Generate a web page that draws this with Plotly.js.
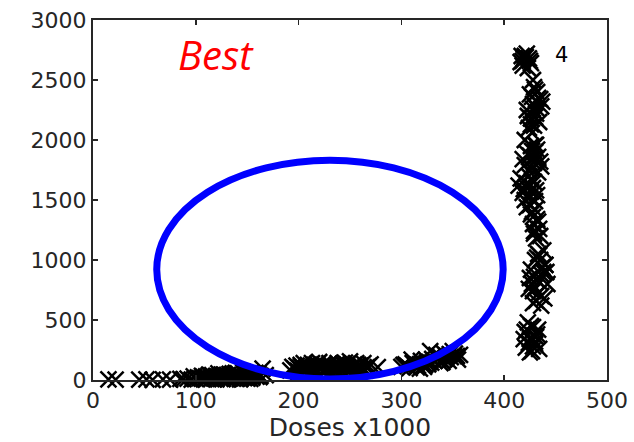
<!DOCTYPE html>
<html>
<head>
<meta charset="utf-8">
<script src="https://cdn.plot.ly/plotly-3.0.1.min.js"></script>
<style>html,body{margin:0;padding:0;background:#fff;}#chart{width:634px;height:442px;}</style>
</head>
<body>
<div id="chart"></div>
<script>
// Doses (x1000) and response values
const lowX  = [15,22,45,52,58,68,75,85,88,92,96,100,104,108,112,115,118,121,124,127,130,132,135,137,140,142,145,147,150,152,155,157,160,162,165,168,110,120,128,138,148,143,153,158,133,125,98,106,116,146,
               102,107,111,114,119,123,126,129,131,134,136,139,141,144,149,151,154,156,159,161,163,113,117,122,139,144,150,155,131,126];
const lowY  = [5,3,4,6,2,5,3,10,8,12,4,10,15,6,20,8,14,25,10,30,18,8,35,22,12,40,28,15,45,30,20,50,35,25,95,40,30,5,42,48,55,5,10,60,52,45,30,35,40,65,
               22,28,12,38,20,32,15,24,40,16,48,30,55,22,38,18,62,42,28,50,35,45,25,55,60,15,12,30,5,8];
const midX  = [192,196,200,203,206,209,212,215,218,221,224,227,230,233,236,239,242,245,248,251,254,257,260,263,266,277,198,210,220,235,250,265,270,225,240,255,205,230,245,260,
               194,199,202,207,211,214,217,219,222,226,229,232,234,238,241,244,247,249,253,256,259,262,268,201,213,223,237,252,258,243,228,216];
const midY  = [80,95,70,110,85,125,75,100,135,90,115,80,140,105,95,125,85,145,110,95,130,100,120,140,105,108,120,60,150,70,155,80,130,130,100,75,140,60,120,90,
               110,75,125,95,105,90,120,110,100,95,120,110,85,140,115,100,130,85,115,140,105,95,115,100,140,125,115,105,125,135,100,80];
const hiX   = [300,304,308,312,316,320,324,328,332,336,340,344,348,352,355,310,318,326,334,342,350,346,338,322,314,
               302,306,311,315,319,323,327,330,335,339,343,347,351,354,357,329,337,341];
const hiY   = [110,130,100,150,120,140,170,240,160,180,150,200,190,220,170,170,95,130,210,175,240,160,140,110,135,
               125,115,140,105,160,125,150,175,190,165,185,215,200,200,210,145,200,225];
const vertX = [416,420,424,418,422,426,419,423,417,425,
               428,430,425,433,428,436,422,431,426,434,429,424,432,437,427,
               420,426,432,423,429,435,420,427,433,424,430,418,436,
               416,422,428,418,425,431,414,420,427,
               425,430,426,432,428,434,429,431,
               438,434,430,440,426,436,431,442,424,433,439,428,435,425,441,430,436,
               423,428,420,432,425,430,421,427,434,419,433,425,
               421,418,429,427,432,430,426,435,428,423,431,425,429,424,433,430,427,
               421,426,432,429,419,425,430,422,428,
               429,433,427,435,
               432,437,429,434,440,428,436,431,427,438,433,
               426,429,424,431,422,428,430];
const vertY = [2650,2700,2680,2620,2720,2640,2680,2600,2700,2660,
               2500,2420,2380,2350,2300,2280,2250,2220,2180,2150,2120,2100,2400,2320,2060,
               2000,1950,1920,1880,1850,1820,1790,1760,1730,1700,1900,1840,1780,
               1680,1640,1600,1560,1520,1580,1620,1500,1660,
               1460,1420,1380,1340,1300,1260,1220,1180,
               1080,1040,1000,960,920,880,840,800,760,720,680,640,1000,850,900,770,620,
               480,440,400,380,340,300,270,240,260,340,420,230,
               2690,2660,2440,2360,2260,2190,2130,2340,2260,2200,1960,1870,1810,1740,1860,1960,1910,
               1610,1570,1540,1650,1590,1460,1490,1440,1360,
               1240,1320,1400,1200,
               1020,940,860,820,960,740,700,660,800,900,1050,
               450,370,310,360,420,280,320];
// Ellipse (center and semi-axes)
const ellipseCenter = [230.5, 920];
const ellipseRadii  = [168.5, 912];
// Annotations
const bestLabel = "Best";
const groupLabel = "4";
const groupLabelPos = [456, 2705];
const xTicks = [0,100,200,300,400,500];
const yTicks = [0,500,1000,1500,2000,2500,3000];

const allX = lowX.concat(midX, hiX, vertX);
const allY = lowY.concat(midY, hiY, vertY);

const axisColor = '#262626';
const trace = {
  x: allX, y: allY, type: 'scatter', mode: 'markers',
  marker: {symbol: 'x-thin', size: 16, color: '#000', line: {color: '#000', width: 2.5}},
  hoverinfo: 'none', showlegend: false, cliponaxis: false
};

const layout = {
  width: 634, height: 442,
  margin: {l: 93, r: 27, t: 20, b: 62},
  paper_bgcolor: '#fff', plot_bgcolor: '#fff',
  font: {family: 'DejaVu Sans, Liberation Sans, Arial, sans-serif', color: axisColor},
  showlegend: false,
  xaxis: {
    range: [0, 500], tickvals: xTicks, ticktext: xTicks.map(String),
    showgrid: false, zeroline: false, showline: true, mirror: 'ticks',
    linecolor: axisColor, linewidth: 2, ticks: 'inside', ticklen: 5, tickwidth: 1.5, tickcolor: axisColor,
    tickfont: {size: 22, color: axisColor},
    title: {text: 'Doses x1000', font: {size: 25, color: axisColor}, standoff: 0}
  },
  yaxis: {
    range: [0, 3000], tickvals: yTicks, ticktext: yTicks.map(String),
    showgrid: false, zeroline: false, showline: true, mirror: 'ticks',
    linecolor: axisColor, linewidth: 2, ticks: 'inside', ticklen: 5, tickwidth: 1.5, tickcolor: axisColor,
    tickfont: {size: 22, color: axisColor}
  },
  shapes: [{
    type: 'circle', xref: 'x', yref: 'y', layer: 'above',
    x0: ellipseCenter[0] - ellipseRadii[0], x1: ellipseCenter[0] + ellipseRadii[0],
    y0: ellipseCenter[1] - ellipseRadii[1], y1: ellipseCenter[1] + ellipseRadii[1],
    line: {color: '#0000ff', width: 7}
  }],
  annotations: [
    {x: 0.24, y: 0.905, xref: 'paper', yref: 'paper', text: '<i>' + bestLabel + '</i>', showarrow: false,
     font: {family: 'Open Sans, Lato, sans-serif', size: 40, color: '#ff0000'}, xanchor: 'center', yanchor: 'middle'},
    {x: groupLabelPos[0], y: groupLabelPos[1], xref: 'x', yref: 'y', text: groupLabel, showarrow: false,
     font: {size: 21, color: '#000'}, xanchor: 'center', yanchor: 'middle'}
  ]
};

Plotly.newPlot('chart', [trace], layout, {displayModeBar: false, staticPlot: true});
</script>
</body>
</html>
